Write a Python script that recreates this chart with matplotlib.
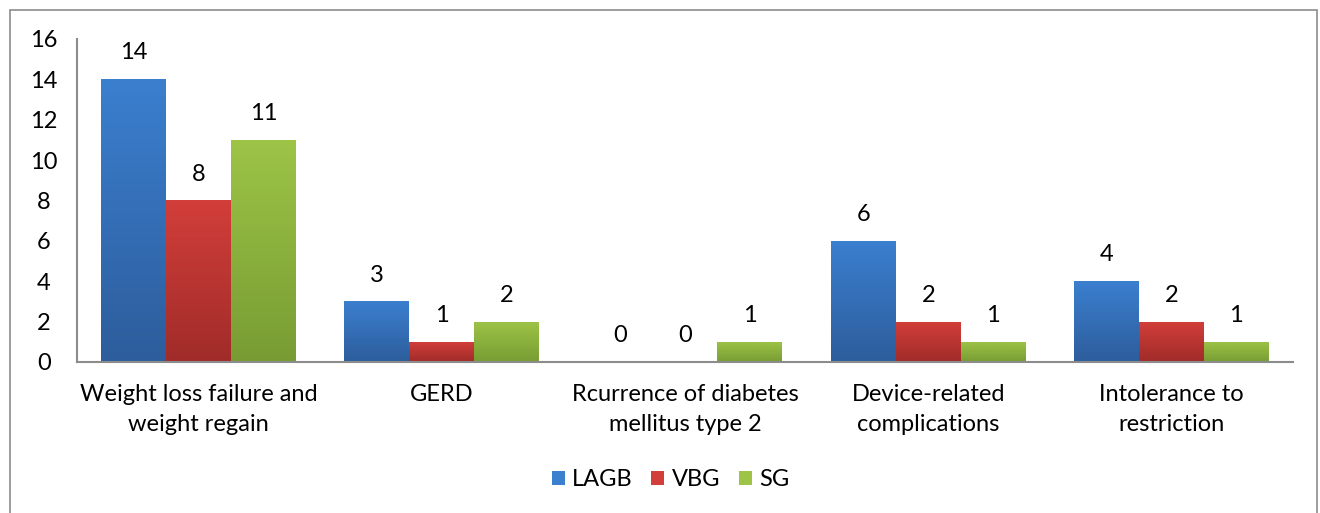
import matplotlib.pyplot as plt
import numpy as np
from matplotlib.colors import LinearSegmentedColormap
from matplotlib.patches import Rectangle

categories = [
    "Weight loss failure and\nweight regain",
    "GERD",
    "Rcurrence of diabetes\nmellitus type 2",
    "Device-related\ncomplications",
    "Intolerance to\nrestriction",
]
series = ["LAGB", "VBG", "SG"]
lagb = [14, 3, 0, 6, 4]
vbg = [8, 1, 0, 2, 2]
sg = [11, 2, 1, 1, 1]
yticks = [0, 2, 4, 6, 8, 10, 12, 14, 16]

# top / bottom shades of the gradient fill
shades = [("#3b7fcf", "#2d5d9c"), ("#d23e3a", "#a02c29"), ("#9dc447", "#789c33")]

plt.rcParams["font.family"] = ["Lato", "DejaVu Sans"]
FS = 17

fig = plt.figure(figsize=(13.2, 5.13), dpi=100)
fig.patches.append(Rectangle((10 / 1320, -0.01), 1307 / 1320, 1 - 10 / 513 + 0.01,
                             transform=fig.transFigure, fill=False,
                             edgecolor="#8c8c8c", linewidth=1.2))
ax = fig.add_axes([77 / 1320, 151 / 513, 1216 / 1320, 323 / 513])

x = np.arange(len(categories))
w = 0.267
for i, (name, vals) in enumerate(zip(series, [lagb, vbg, sg])):
    pos = x + (i - 1) * w
    bars = ax.bar(pos, vals, w, color=shades[i][0], label=name, linewidth=0)
    cmap = LinearSegmentedColormap.from_list(name, [shades[i][1], shades[i][0]])
    for b, v in zip(bars, vals):
        if v > 0:
            xx, yy = b.get_x(), b.get_y()
            im = ax.imshow(np.linspace(0, 1, 100).reshape(-1, 1), cmap=cmap,
                           extent=[xx, xx + b.get_width(), yy, yy + b.get_height()],
                           origin="lower", aspect="auto", zorder=2)
            im.set_clip_path(b)
        ax.annotate(str(v), (b.get_x() + b.get_width() / 2, v), xytext=(0, 19),
                    textcoords="offset points", ha="center", va="center", fontsize=FS)

ax.set_xlim(-0.5, len(categories) - 0.5)
ax.set_ylim(0, 16)
ax.set_yticks(yticks)
ax.set_xticks(x)
ax.set_xticklabels(categories, fontsize=FS, linespacing=1.5)
ax.tick_params(axis="y", labelsize=FS, length=0, pad=24)
for t in ax.get_yticklabels():
    t.set_horizontalalignment("center")
ax.tick_params(axis="x", length=0, pad=16)
for s in ["top", "right"]:
    ax.spines[s].set_visible(False)
for s in ["left", "bottom"]:
    ax.spines[s].set_color("#8c8c8c")
    ax.spines[s].set_linewidth(1.5)
ax.set_axisbelow(True)

fig.legend(loc="center", bbox_to_anchor=(0.508, 1 - 480 / 513), ncol=3, frameon=False,
           fontsize=FS, handlelength=0.55, handleheight=0.55, handletextpad=0.3,
           columnspacing=0.8)

fig.savefig("out.png", dpi=100)
